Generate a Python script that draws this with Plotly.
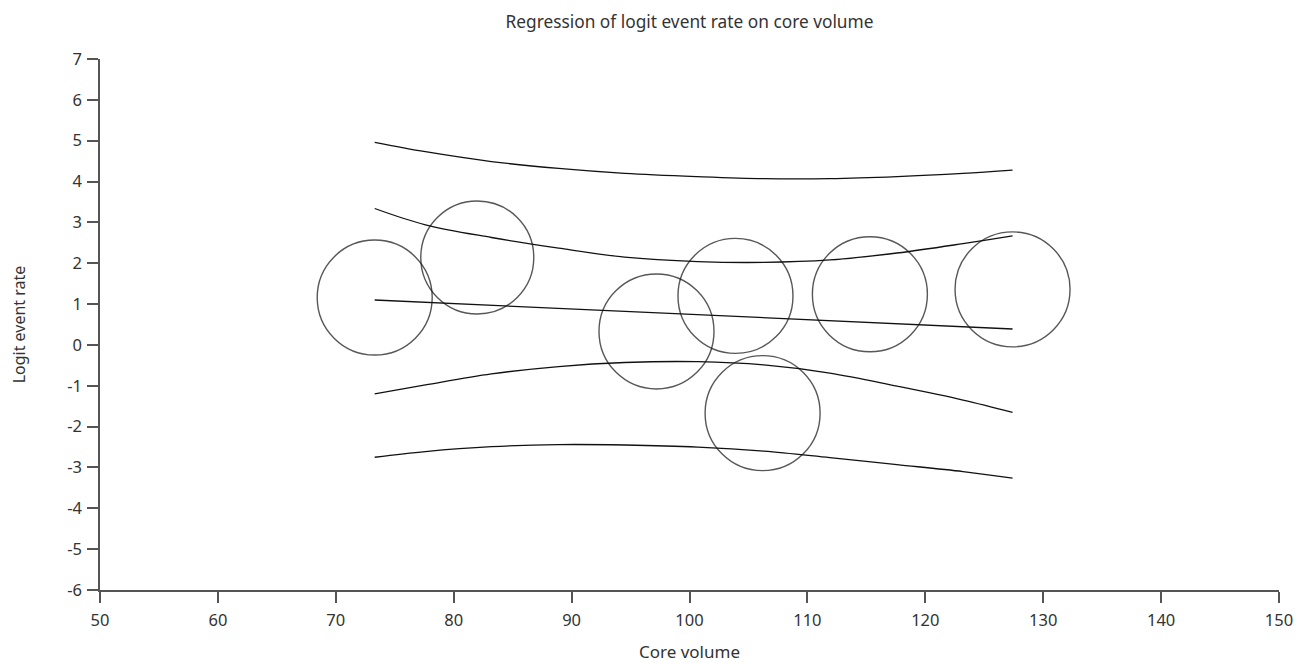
import plotly.graph_objects as go

# studies: core volume vs logit event rate, bubble size ~ weight
core_volume = [73.3, 82.0, 97.2, 103.9, 106.2, 115.3, 127.4]
logit_rate = [1.16, 2.14, 0.33, 1.20, -1.67, 1.24, 1.36]
bubble_px = [115, 113, 115, 115, 115, 115, 115]

# fitted regression line
fit_x = [73.3, 127.4]
fit_y = [1.10, 0.39]

band_x = [73.3, 77.6, 83.2, 88.9, 94.5, 100.7, 106.3, 111.9, 117.6, 123.2, 127.4]
ci_upper = [3.34, 2.94, 2.63, 2.37, 2.15, 2.04, 2.02, 2.08, 2.25, 2.48, 2.67]
ci_lower = [-1.20, -0.98, -0.71, -0.53, -0.43, -0.41, -0.49, -0.69, -1.01, -1.35, -1.65]
pi_upper = [4.96, 4.73, 4.49, 4.32, 4.20, 4.12, 4.07, 4.07, 4.12, 4.20, 4.28]
pi_lower = [-2.75, -2.61, -2.49, -2.44, -2.45, -2.50, -2.60, -2.76, -2.93, -3.10, -3.26]

x_ticks = [50, 60, 70, 80, 90, 100, 110, 120, 130, 140, 150]
y_ticks = [-6, -5, -4, -3, -2, -1, 0, 1, 2, 3, 4, 5, 6, 7]
y_tick_labels = ["-6", "-5", "-4", "-3", "-2", "-1", "0", "1", "2", "3", "4", "5", "6", "7"]

fig = go.Figure()

for band in [pi_upper, ci_upper, ci_lower, pi_lower]:
    fig.add_scatter(x=band_x, y=band, mode="lines",
                    line=dict(color="#111111", width=1.3, shape="spline", smoothing=1.0))

fig.add_scatter(x=fit_x, y=fit_y, mode="lines", line=dict(color="#111111", width=1.3))

fig.add_scatter(
    x=core_volume, y=logit_rate, mode="markers",
    marker=dict(size=bubble_px, color="rgba(0,0,0,0)",
                line=dict(color="#111111", width=1.4)),
)

font = "Noto Sans"
txt = "#333333"
axis_style = dict(
    showgrid=False, zeroline=False, showline=True, linecolor="#555555", linewidth=1.5,
    ticks="outside", ticklen=11, tickwidth=1.5, tickcolor="#555555", automargin=False,
    tickfont=dict(family=font, size=16.5, color=txt),
)

# page body has an 8px margin; figure runs to the window's right/bottom edge
fig.update_layout(
    width=1299, height=655,
    margin=dict(l=92, r=28, t=51, b=73),
    paper_bgcolor="white", plot_bgcolor="white",
    showlegend=False,
    title=dict(text="Regression of logit event rate on core volume",
               x=0.5, xref="paper", y=0.979, yanchor="middle",
               font=dict(family=font, size=17.3, color=txt)),
    xaxis=dict(range=[50, 150], tickvals=x_ticks, ticklabelstandoff=3, **axis_style,
               title=dict(text="Core volume", standoff=17,
                          font=dict(family=font, size=17, color=txt))),
    yaxis=dict(range=[-6, 7], tickvals=y_ticks, ticktext=y_tick_labels,
               ticklabelstandoff=2, **axis_style,
               title=dict(text="Logit event rate", standoff=38,
                          font=dict(family=font, size=16, color=txt))),
)

fig.write_html("out.html")
